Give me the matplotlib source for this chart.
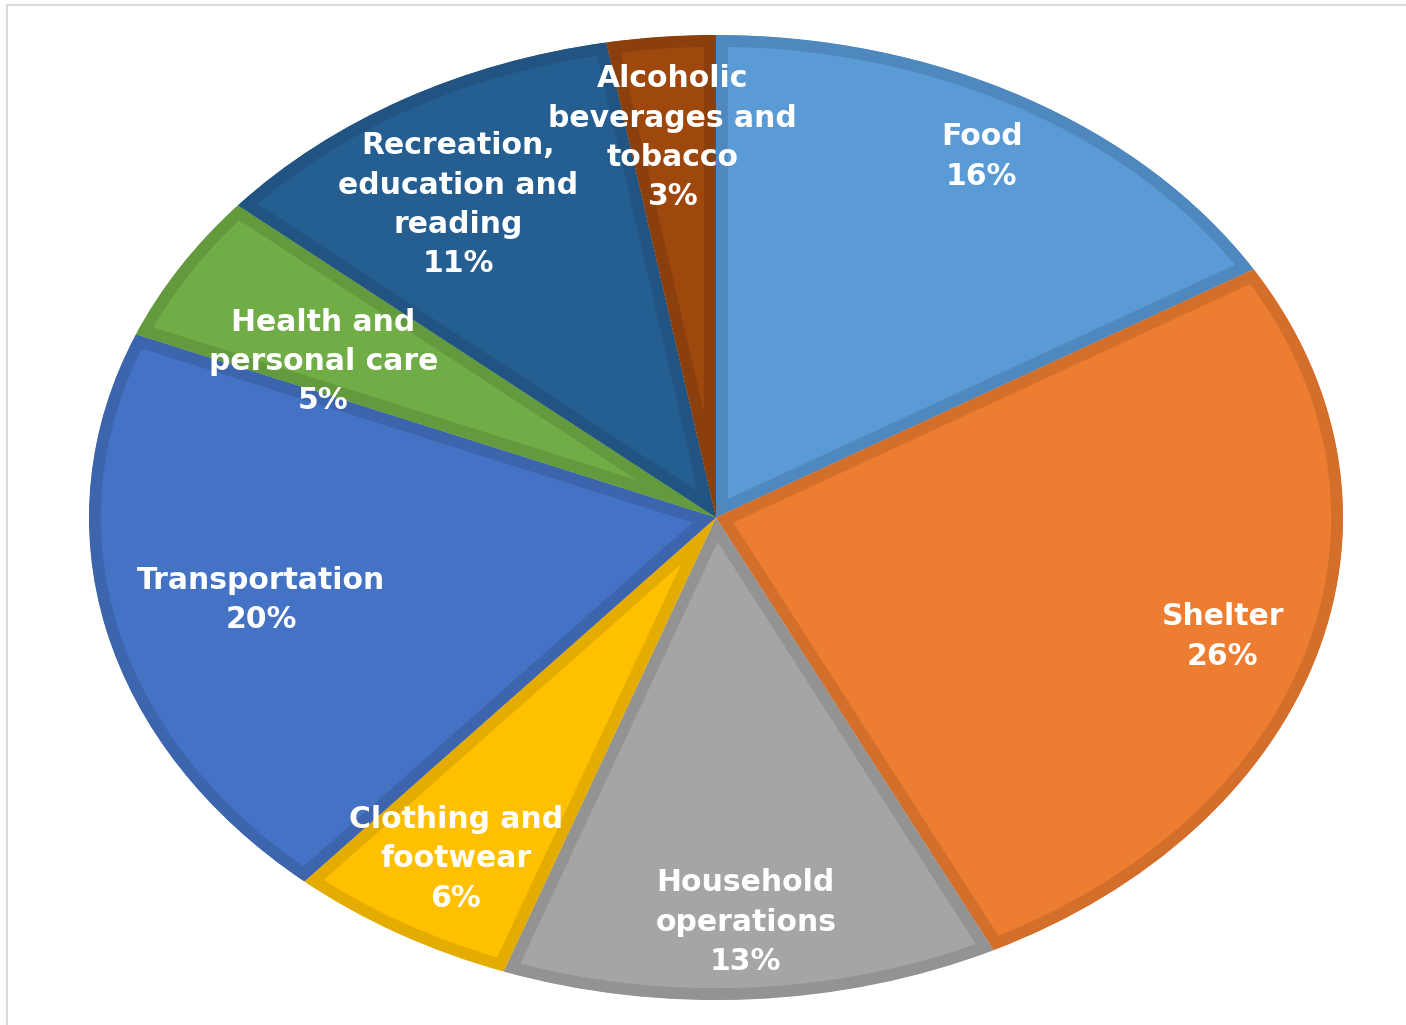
import numpy as np
import matplotlib
matplotlib.use("Agg")
import matplotlib.pyplot as plt
from matplotlib.lines import Line2D

# data (slice sizes, labels show rounded %)
categories = ["Food", "Shelter", "Household\noperations", "Clothing and\nfootwear",
              "Transportation", "Health and\npersonal care",
              "Recreation,\neducation and\nreading", "Alcoholic\nbeverages and\ntobacco"]
shares = [16.4, 26.3, 12.8, 5.9, 19.8, 5.0, 11.0, 2.8]

colors = ["#5B9BD5", "#ED7D31", "#A5A5A5", "#FFC000",
          "#4472C4", "#70AD47", "#255E91", "#9E480E"]
edges = ["#4E88BE", "#D46F2B", "#939393", "#E5AC00",
         "#3C65AE", "#639A3E", "#215482", "#8B3F0C"]
# label placement: distance from centre and small angle nudge (degrees)
label_r = [0.86, 0.845, 0.84, 0.82, 0.745, 0.705, 0.767, 0.79]
label_nudge = [0, -0.6, 0, 0, 0, 4, 2.5, 0]

fig = plt.figure(figsize=(14.06, 10.25), dpi=100)
ax = fig.add_axes([89 / 1406, 25 / 1025, 1254 / 1406, 965 / 1025])

wedges, _ = ax.pie(shares, colors=colors, startangle=90, counterclock=False,
                   wedgeprops=dict(linewidth=17, joinstyle="round"))
for w, ec in zip(wedges, edges):
    w.set_edgecolor(ec)
    w.set_clip_on(True)
    w.set_clip_path(w)  # keep only the inner half of the border

for w, lab, val, r, d in zip(wedges, categories, shares, label_r, label_nudge):
    mid = np.deg2rad((w.theta1 + w.theta2) / 2 + d)
    ax.text(r * np.cos(mid), r * np.sin(mid), f"{lab}\n{round(val)}%",
            ha="center", va="center", color="white", fontsize=21.5,
            fontweight="bold", linespacing=1.45)

ax.set_aspect("auto")
ax.set_xlim(-1, 1)
ax.set_ylim(-1, 1)
ax.axis("off")

# light frame on top and left
fig.add_artist(Line2D([8 / 1406, 1], [1 - 5 / 1025] * 2, color="#D9D9D9", lw=1.5))
fig.add_artist(Line2D([7 / 1406] * 2, [0, 1 - 5 / 1025], color="#D9D9D9", lw=1.5))

fig.savefig("out.png", dpi=100, facecolor="white")
